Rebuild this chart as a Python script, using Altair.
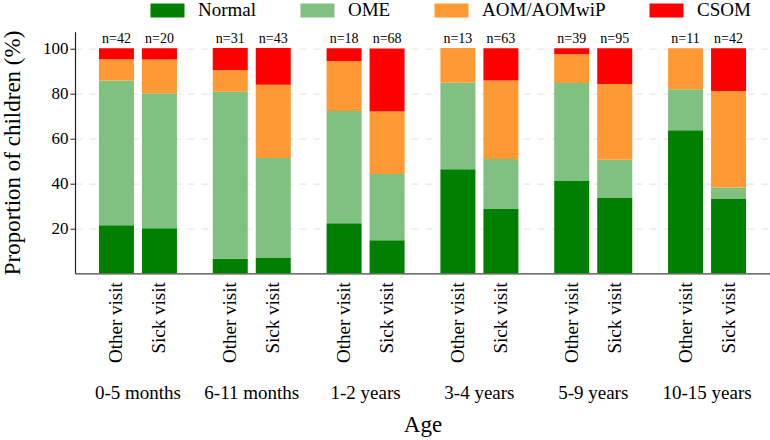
import altair as alt
import pandas as pd

# Age groups, visit types and outcome categories
ages = ["0-5 months", "6-11 months", "1-2 years", "3-4 years", "5-9 years", "10-15 years"]
visits = ["Other visit", "Sick visit"]
outcomes = ["Normal", "OME", "AOM/AOMwiP", "CSOM"]
colors = ["#008000", "#80c080", "#ff9933", "#ff0000"]

# Sample size per bar (age x visit, in order)
n_other = [42, 31, 18, 13, 39, 11]
n_sick = [20, 43, 68, 63, 95, 42]

# Percentages per outcome (order of ages)
normal_other = [21.4, 6.5, 22.2, 46.2, 41.0, 63.6]
ome_other = [64.3, 74.2, 50.0, 38.5, 43.6, 18.2]
aom_other = [9.5, 9.7, 22.2, 15.4, 12.8, 18.2]
csom_other = [4.8, 9.7, 5.6, 0.0, 2.6, 0.0]

normal_sick = [20.0, 7.0, 14.7, 28.6, 33.7, 33.3]
ome_sick = [60.0, 44.2, 29.4, 22.2, 16.8, 4.8]
aom_sick = [15.0, 32.6, 27.9, 34.9, 33.7, 42.9]
csom_sick = [5.0, 16.3, 27.9, 14.3, 15.8, 19.0]

series = {
    "Other visit": [normal_other, ome_other, aom_other, csom_other],
    "Sick visit": [normal_sick, ome_sick, aom_sick, csom_sick],
}

rows = []
for visit, vals in series.items():
    for k, outcome in enumerate(outcomes):
        for i, age in enumerate(ages):
            rows.append({"age": age, "visit": visit, "outcome": outcome,
                         "rank": k, "pct": vals[k][i]})
bars = pd.DataFrame(rows)

labels = pd.DataFrame(
    [{"age": a, "visit": "Other visit", "top": 100, "n": f"n={n}"} for a, n in zip(ages, n_other)]
    + [{"age": a, "visit": "Sick visit", "top": 100, "n": f"n={n}"} for a, n in zip(ages, n_sick)]
)

FONT = "Liberation Serif"
W, H = 695, 241.6
YMAX = 107.4

x_enc = alt.X(
    "age:N", sort=ages, title="Age",
    scale=alt.Scale(paddingInner=0, paddingOuter=0.053),
    axis=alt.Axis(labelAngle=0, ticks=False, labelPadding=110, labelFontSize=19,
                  labelFont=FONT, titleFont=FONT,
                  titleFontSize=23, titlePadding=11, titleFontWeight="normal",
                  domainColor="#444444", domainWidth=1.2, labelColor="black",
                  titleColor="black"),
)
xo_enc = alt.XOffset("visit:N", sort=visits,
                     scale=alt.Scale(paddingInner=0.186, paddingOuter=0.4165))
y_scale = alt.Scale(domain=[0, YMAX], nice=False, zero=True)

stack = alt.Chart(bars).mark_bar().encode(
    x=x_enc,
    xOffset=xo_enc,
    y=alt.Y("pct:Q", stack="zero", scale=y_scale, title="Proportion of children (%)",
            axis=alt.Axis(values=[20, 40, 60, 80, 100], tickSize=5, tickColor="#222222",
                          labelFont=FONT, titleFont=FONT,
                          labelFontSize=17, labelPadding=2, labelColor="black",
                          titleFontSize=23, titlePadding=18, titleFontWeight="normal",
                          titleColor="black", domainColor="#222222", domainWidth=1.2,
                          grid=True, gridColor="#e8e8e8", gridDash=[7, 7], gridWidth=1.2)),
    color=alt.Color("outcome:N", sort=outcomes,
                    scale=alt.Scale(domain=outcomes, range=colors),
                    legend=alt.Legend(title=None, orient="none", direction="horizontal",
                                      legendX=83, legendY=-31,
                                      symbolType="M-2.43,-1H2.43V1H-2.43Z",
                                      symbolSize=196, symbolStrokeWidth=0,
                                      labelFont=FONT, labelFontSize=19, labelOffset=21,
                                      columnPadding=43, labelColor="black")),
    order=alt.Order("rank:Q", sort="ascending"),
)

n_text = alt.Chart(labels).mark_text(
    fontSize=14, baseline="alphabetic", dy=-5, color="black", font=FONT
).encode(
    x=alt.X("age:N", sort=ages),
    xOffset=alt.XOffset("visit:N", sort=visits),
    y=alt.Y("top:Q"),
    text="n:N",
)

visit_text = alt.Chart(labels).mark_text(
    fontSize=19, angle=270, align="right", baseline="middle", color="black", font=FONT
).encode(
    x=alt.X("age:N", sort=ages),
    xOffset=alt.XOffset("visit:N", sort=visits),
    y=alt.value(H + 9),
    text="visit:N",
)

chart = (
    alt.layer(stack, n_text, visit_text)
    .properties(width=W, height=H,
                autosize=alt.AutoSizeParams(type="none"),
                padding={"left": 75, "top": 31.7, "right": 0, "bottom": 440 - 31.7 - H})
    .configure(font=FONT)
    .configure_view(stroke=None)
    .configure_axis(labelFont=FONT, titleFont=FONT)
    .configure_legend(labelFont=FONT)
)

chart.save("out.html", embed_options={"renderer": "svg", "actions": False})
